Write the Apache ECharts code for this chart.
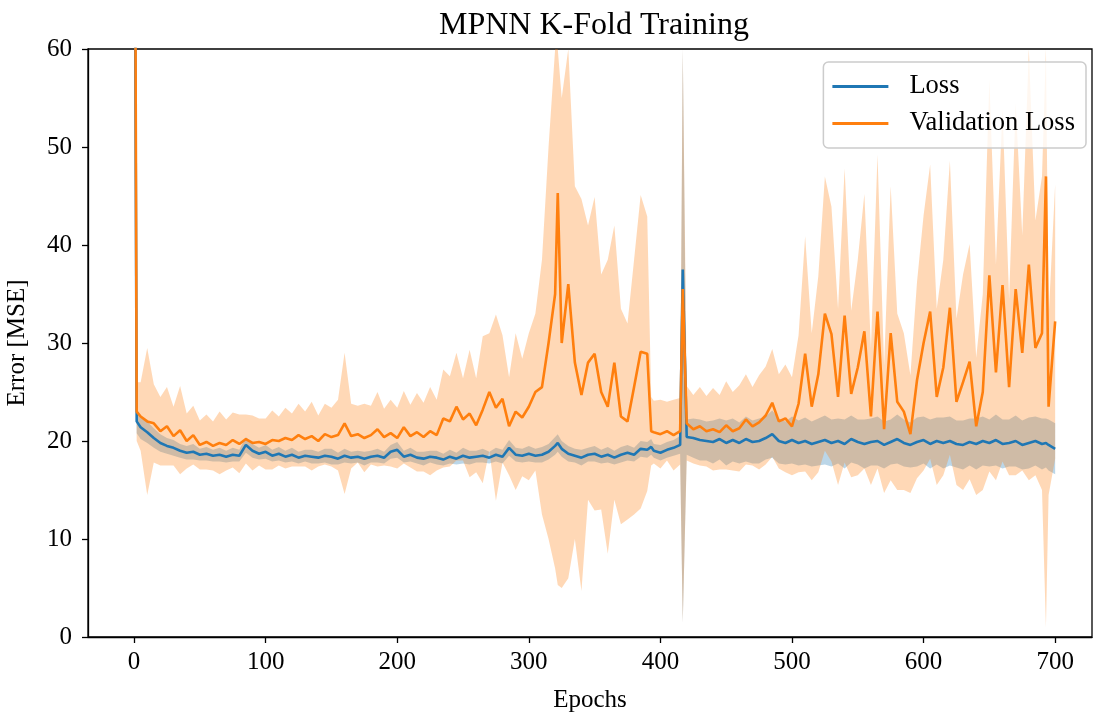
<!DOCTYPE html>
<html>
<head>
<meta charset="utf-8">
<script src="https://cdn.jsdelivr.net/npm/echarts@6/dist/echarts.min.js"></script>
<style>
  html, body { margin: 0; padding: 0; background: #fff; }
  #chart-container { width: 1094px; height: 717px; }
</style>
</head>
<body>
<div id="chart-container"></div>
<script>
// epochs
var epochs = [
  0, 2, 5, 10, 15, 20, 25, 30, 35, 40,
  45, 50, 55, 60, 65, 70, 75, 80, 85, 90,
  95, 100, 105, 110, 115, 120, 125, 130, 135, 140,
  145, 150, 155, 160, 165, 170, 175, 180, 185, 190,
  195, 200, 205, 210, 215, 220, 225, 230, 235, 240,
  245, 250, 255, 260, 265, 270, 275, 280, 285, 290,
  295, 300, 305, 310, 315, 320, 322, 325, 330, 335,
  340, 345, 350, 355, 360, 365, 370, 375, 380, 385,
  390, 393, 395, 400, 405, 410, 415, 417, 420, 425,
  430, 435, 440, 445, 450, 455, 460, 465, 470, 475,
  480, 485, 490, 495, 500, 505, 510, 515, 520, 525,
  530, 535, 540, 545, 550, 555, 560, 565, 570, 575,
  580, 585, 590, 595, 600, 605, 610, 615, 620, 625,
  630, 635, 640, 645, 650, 655, 660, 665, 670, 675,
  680, 685, 690, 693, 695, 700
];

// mean training loss
var loss = [
  95, 22.0, 21.4, 20.9, 20.3, 19.8, 19.5, 19.3, 19.0, 18.8,
  18.9, 18.6, 18.7, 18.5, 18.6, 18.4, 18.6, 18.5, 19.6, 19.0,
  18.7, 18.9, 18.5, 18.7, 18.4, 18.6, 18.3, 18.5, 18.4, 18.3,
  18.5, 18.4, 18.2, 18.5, 18.3, 18.4, 18.2, 18.4, 18.5, 18.3,
  18.9, 19.1, 18.4, 18.6, 18.3, 18.2, 18.4, 18.3, 18.1, 18.4,
  18.2, 18.5, 18.3, 18.4, 18.5, 18.3, 18.6, 18.4, 19.3, 18.6,
  18.5, 18.7, 18.5, 18.6, 18.9, 19.5, 19.8, 19.2, 18.7, 18.5,
  18.3, 18.6, 18.7, 18.4, 18.6, 18.3, 18.6, 18.8, 18.6, 19.2,
  19.1, 19.4, 19.0, 18.8, 19.1, 19.3, 19.6, 37.5, 20.4, 20.3,
  20.1, 20.0, 19.9, 20.2, 19.8, 20.1, 19.8, 20.2, 19.9, 20.0,
  20.3, 20.7, 20.0, 19.8, 20.1, 19.8, 20.0, 19.7, 19.9, 20.1,
  19.8, 20.0, 19.7, 20.2, 19.9, 19.7, 19.9, 20.0, 19.6, 19.9,
  20.2, 19.8, 19.6, 19.9, 20.1, 19.7, 20.0, 19.8, 20.0, 19.7,
  19.6, 19.9, 19.7, 20.0, 19.8, 20.1, 19.7, 19.8, 20.0, 19.6,
  19.8, 20.0, 19.7, 19.8, 19.6, 19.2
];

// std of training loss across folds
var lossStd = [
  30, 1.2, 1.2, 1.1, 1.0, 0.9, 0.8, 0.8, 0.7, 0.7,
  0.8, 0.6, 0.7, 0.6, 0.7, 0.6, 0.7, 0.6, 0.8, 0.7,
  0.6, 0.7, 0.6, 0.7, 0.6, 0.7, 0.6, 0.6, 0.7, 0.6,
  0.7, 0.8, 0.6, 0.7, 0.6, 0.6, 0.7, 0.6, 0.7, 0.6,
  0.7, 0.8, 0.6, 0.7, 0.6, 0.7, 0.6, 0.7, 0.6, 0.7,
  0.6, 0.8, 0.7, 0.6, 0.7, 0.6, 0.7, 0.7, 0.8, 0.7,
  0.7, 0.8, 0.7, 0.8, 0.8, 0.9, 0.9, 0.8, 0.8, 0.7,
  0.8, 0.7, 0.8, 0.7, 0.8, 0.7, 0.8, 0.8, 0.7, 0.8,
  0.8, 0.8, 0.7, 0.8, 0.8, 0.8, 0.9, 36, 1.8, 2.0,
  2.1, 2.0, 2.2, 2.1, 2.3, 2.2, 2.1, 2.3, 2.2, 2.3,
  2.2, 2.4, 2.3, 2.2, 2.4, 2.3, 2.4, 2.3, 2.4, 2.5,
  2.4, 2.3, 2.5, 2.4, 2.3, 2.5, 2.4, 2.5, 2.4, 2.3,
  2.5, 2.4, 2.3, 2.5, 2.4, 2.5, 2.4, 2.6, 2.5, 2.4,
  2.5, 2.4, 2.6, 2.5, 2.4, 2.6, 2.5, 2.4, 2.6, 2.5,
  2.6, 2.5, 2.6, 2.5, 2.6, 2.6
];

// mean validation loss
var valLoss = [
  110, 23.0, 22.5, 22.0, 21.8, 21.0, 21.5, 20.5, 21.1, 20.0,
  20.6, 19.6, 19.9, 19.5, 19.8, 19.6, 20.1, 19.7, 20.2, 19.8,
  19.9, 19.7, 20.1, 20.0, 20.3, 20.1, 20.6, 20.2, 20.5, 20.0,
  20.7, 20.4, 20.6, 21.8, 20.5, 20.7, 20.3, 20.6, 21.2, 20.4,
  20.8, 20.3, 21.4, 20.5, 20.9, 20.4, 21.0, 20.6, 22.3, 22.0,
  23.5, 22.2, 22.8, 21.6, 23.2, 25.0, 23.4, 24.3, 21.5, 23.0,
  22.4, 23.5, 25.0, 25.5, 30.0, 35.0, 45.3, 30.0, 36.0, 28.0,
  24.7, 28.0, 28.9, 25.0, 23.5, 28.0, 22.5, 22.0, 25.5, 29.1,
  28.9, 21.0, 20.9, 20.7, 21.0, 20.6, 21.0, 35.5, 21.8, 21.2,
  21.5, 21.0, 21.2, 20.9, 21.6, 21.0, 21.3, 22.2, 21.5, 21.9,
  22.6, 23.9, 22.0, 22.3, 21.5, 23.8, 28.9, 23.5, 26.8, 33.0,
  30.9, 24.5, 32.8, 24.8, 27.5, 31.2, 22.5, 33.2, 21.2, 31.0,
  24.0, 23.0, 20.7, 26.2, 30.0, 33.2, 24.5, 27.5, 33.6, 24.0,
  26.0, 28.1, 21.5, 25.0, 36.9, 27.0, 35.9, 25.5, 35.5, 29.0,
  38.0, 29.5, 31.0, 47.0, 23.5, 32.2
];

// std of validation loss across folds
var valStd = [
  40, 3.0, 3.5, 7.5, 4.0, 3.5, 4.0, 3.0, 4.5, 2.8,
  3.0, 2.5, 2.8, 2.5, 3.2, 2.6, 2.8, 3.0, 2.5, 2.8,
  2.4, 2.6, 3.0, 2.5, 3.1, 2.7, 3.2, 2.8, 3.5, 2.6,
  3.1, 3.0, 3.6, 7.2, 3.3, 2.9, 3.5, 3.0, 3.8, 2.9,
  3.4, 3.1, 3.7, 3.2, 4.0, 3.5, 4.5, 3.6, 5.0, 4.6,
  5.5, 4.2, 6.5, 4.8, 7.5, 6.0, 9.5, 6.5, 5.0, 8.0,
  6.0, 7.5, 8.0, 13.0, 20.0, 28.0, 40.0, 25.0, 30.0, 18.0,
  20.0, 14.0, 16.0, 12.0, 15.0, 14.0, 11.0, 10.0, 13.0, 16.0,
  14.0, 3.5, 3.2, 3.5, 3.0, 3.6, 3.4, 34.0, 3.8, 3.5,
  4.0, 3.6, 4.2, 3.8, 4.5, 4.0, 4.4, 4.6, 4.0, 4.8,
  5.0, 5.5, 4.8, 5.5, 5.0, 7.0, 12.0, 7.5, 10.0, 14.0,
  13.0, 9.0, 15.0, 8.5, 11.0, 14.0, 7.0, 16.0, 6.5, 15.0,
  9.0, 8.0, 6.0, 10.0, 13.0, 15.0, 9.0, 11.0, 15.0, 8.5,
  11.0, 12.0, 7.0, 10.0, 20.0, 11.0, 18.0, 9.0, 19.0, 12.0,
  22.0, 13.0, 16.0, 46.0, 9.0, 14.0
];

var xTicks = [0, 100, 200, 300, 400, 500, 600, 700];
var yMin = 0, yMax = 60;

var dom = document.getElementById("chart-container");
var myChart = echarts.init(dom, null, { renderer: "canvas" });

var FONT = "'Liberation Serif', 'DejaVu Serif', serif";
var BLUE = "#1f77b4";
var ORANGE = "#ff7f0e";

function pairs(ys) {
  return epochs.map(function (x, i) { return [x, ys[i]]; });
}

// rows of [epoch, mean - std, mean + std] for the shaded bands
function bandRows(mean, sd) {
  return epochs.map(function (x, i) { return [x, mean[i] - sd[i], mean[i] + sd[i]]; });
}

function clampY(v) {
  return Math.max(yMin, Math.min(yMax, v));
}

// one polygon per band, built from the whole data through api.coord
function bandSeries(rows, fill) {
  return {
    type: "custom",
    data: rows,
    encode: { x: 0, y: [1, 2] },
    silent: true,
    z: 1,
    renderItem: function (params, api) {
      if (params.dataIndex !== 0) return null;
      var top = [], bottom = [];
      for (var i = 0; i < rows.length; i++) {
        top.push(api.coord([rows[i][0], clampY(rows[i][2])]));
        bottom.push(api.coord([rows[i][0], clampY(rows[i][1])]));
      }
      return {
        type: "polygon",
        shape: { points: top.concat(bottom.reverse()) },
        style: { fill: fill, stroke: null }
      };
    }
  };
}

var option = {
  animation: false,
  backgroundColor: "#fff",
  title: {
    text: "MPNN K-Fold Training",
    left: 589,
    top: 5,
    textAlign: "center",
    textStyle: { fontFamily: FONT, fontSize: 32, fontWeight: "normal", color: "#000" }
  },
  legend: {
    data: ["Loss", "Validation Loss"],
    icon: "rect",
    orient: "vertical",
    right: 8,
    top: 62,
    padding: [11, 11, 11, 9],
    itemGap: 10,
    itemWidth: 56,
    itemHeight: 3,
    backgroundColor: "rgba(255,255,255,0.8)",
    borderColor: "#cccccc",
    borderWidth: 1.5,
    borderRadius: 5,
    textStyle: { fontFamily: FONT, fontSize: 26.5, color: "#000", padding: [0, 0, 0, 16] }
  },
  grid: {
    left: 88,
    right: 2,
    top: 49,
    bottom: 80,
    outerBoundsMode: "none",
    show: true,
    borderColor: "#000",
    borderWidth: 1.3,
    backgroundColor: "transparent"
  },
  xAxis: {
    type: "value",
    min: -35,
    max: 728,
    name: "Epochs",
    nameLocation: "middle",
    nameGap: 51,
    nameTextStyle: { fontFamily: FONT, fontSize: 25, color: "#000" },
    splitLine: { show: false },
    axisLine: { onZero: false, lineStyle: { color: "#000", width: 1.3 } },
    axisTick: { inside: false, length: 6, customValues: xTicks, lineStyle: { color: "#000", width: 1.3 } },
    axisLabel: { customValues: xTicks, margin: 13, fontFamily: FONT, fontSize: 25, color: "#000" }
  },
  yAxis: {
    type: "value",
    min: yMin,
    max: yMax,
    interval: 10,
    name: "Error [MSE]",
    nameLocation: "middle",
    nameGap: 58,
    nameTextStyle: { fontFamily: FONT, fontSize: 25, color: "#000" },
    splitLine: { show: false },
    axisLine: { show: true, onZero: false, lineStyle: { color: "#000", width: 1.3 } },
    axisTick: { show: true, inside: false, length: 6, lineStyle: { color: "#000", width: 1.3 } },
    axisLabel: { margin: 16, fontFamily: FONT, fontSize: 25, color: "#000" }
  },
  series: [
    bandSeries(bandRows(loss, lossStd), "rgba(31,119,180,0.3)"),
    bandSeries(bandRows(valLoss, valStd), "rgba(255,127,14,0.3)"),
    {
      name: "Loss",
      type: "line",
      data: pairs(loss),
      symbol: "none",
      color: BLUE,
      lineStyle: { color: BLUE, width: 2.6 },
      z: 3
    },
    {
      name: "Validation Loss",
      type: "line",
      data: pairs(valLoss),
      symbol: "none",
      color: ORANGE,
      lineStyle: { color: ORANGE, width: 2.6 },
      z: 4
    }
  ]
};

myChart.setOption(option);
window.addEventListener("resize", myChart.resize);
</script>
</body>
</html>
